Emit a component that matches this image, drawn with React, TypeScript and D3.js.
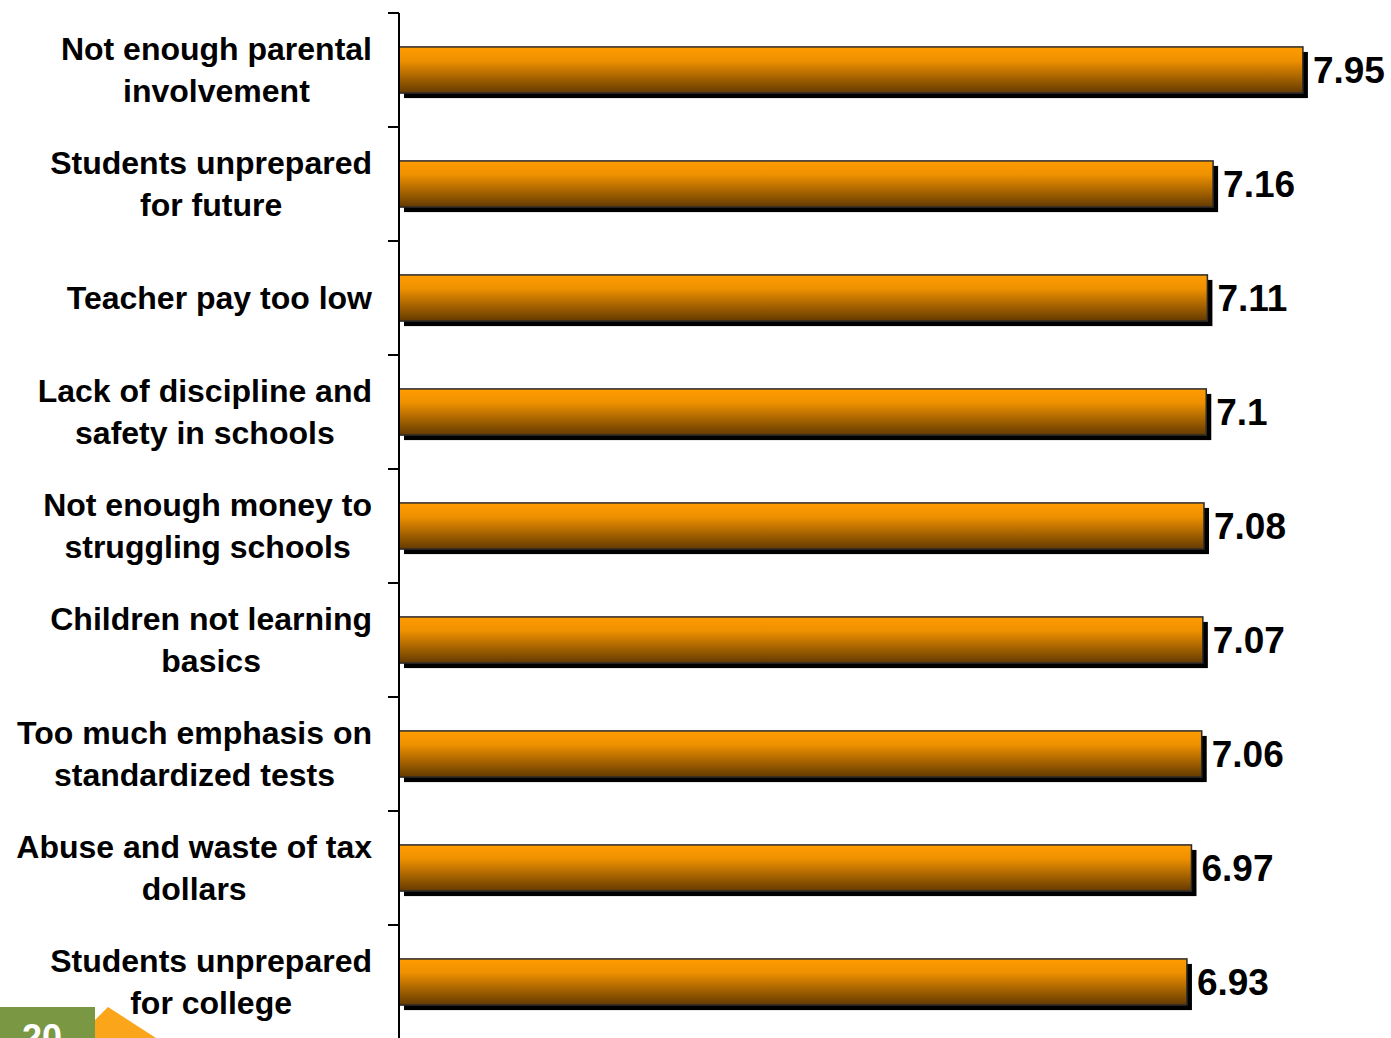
import React, { useEffect, useRef } from "react";
import * as d3 from "d3";

const categories: string[] = [
  "Not enough parental\ninvolvement",
  "Students unprepared\nfor future",
  "Teacher pay too low",
  "Lack of discipline and\nsafety in schools",
  "Not enough money to\nstruggling schools",
  "Children not learning\nbasics",
  "Too much emphasis on\nstandardized tests",
  "Abuse and waste of tax\ndollars",
  "Students unprepared\nfor college",
];
const values: number[] = [7.95, 7.16, 7.11, 7.1, 7.08, 7.07, 7.06, 6.97, 6.93];
const valueLabels: string[] = ["7.95", "7.16", "7.11", "7.1", "7.08", "7.07", "7.06", "6.97", "6.93"];
const slideNumber = "20";

const W = 1391;
const H = 1038;
const FONT = "'Liberation Sans', Arial, Helvetica, sans-serif";

export default function App() {
  const ref = useRef<SVGSVGElement | null>(null);

  useEffect(() => {
    const svg = d3.select(ref.current);
    svg.selectAll("*").remove();

    const x = d3.scaleLinear().domain([0, 8]).range([399, 399 + 8 * 113.7]);
    const y = d3.scaleBand<string>().domain(categories).range([13, 13 + 9 * 114]).padding(0);
    const barH = y.bandwidth() * 0.405;

    const defs = svg.append("defs");
    const grad = defs
      .append("linearGradient")
      .attr("id", "barGrad")
      .attr("x1", 0)
      .attr("y1", 0)
      .attr("x2", 0)
      .attr("y2", 1);
    grad.append("stop").attr("offset", "0%").attr("stop-color", "#FF9C00");
    grad.append("stop").attr("offset", "30%").attr("stop-color", "#EE9000");
    grad.append("stop").attr("offset", "100%").attr("stop-color", "#643A00");

    const g = svg.append("g");

    // shadows
    g.selectAll("rect.shadow")
      .data(categories)
      .join("rect")
      .attr("class", "shadow")
      .attr("x", x(0) + 5)
      .attr("y", (d) => (y(d) as number) + y.bandwidth() / 2 - barH / 2 + 5)
      .attr("width", (_d, i) => x(values[i]) - x(0))
      .attr("height", barH)
      .attr("fill", "#000");

    // bars
    g.selectAll("rect.bar")
      .data(categories)
      .join("rect")
      .attr("class", "bar")
      .attr("x", x(0))
      .attr("y", (d) => (y(d) as number) + y.bandwidth() / 2 - barH / 2)
      .attr("width", (_d, i) => x(values[i]) - x(0))
      .attr("height", barH)
      .attr("fill", "url(#barGrad)")
      .attr("stroke", "#2a2a2a")
      .attr("stroke-width", 1.5);

    // axis line
    g.append("line")
      .attr("x1", 399)
      .attr("x2", 399)
      .attr("y1", 13)
      .attr("y2", H)
      .attr("stroke", "#000")
      .attr("stroke-width", 2);

    // ticks at band boundaries
    const boundaries = categories
      .map((c) => y(c) as number)
      .concat([(y(categories[categories.length - 1]) as number) + y.step()]);
    g.selectAll("line.tick")
      .data(boundaries)
      .join("line")
      .attr("class", "tick")
      .attr("x1", 388)
      .attr("x2", 399)
      .attr("y1", (d) => d)
      .attr("y2", (d) => d)
      .attr("stroke", "#000")
      .attr("stroke-width", 2);

    // value labels
    g.selectAll("text.val")
      .data(categories)
      .join("text")
      .attr("class", "val")
      .attr("x", (_d, i) => x(values[i]) + 10)
      .attr("y", (d) => (y(d) as number) + y.bandwidth() / 2 + 13)
      .attr("font-family", FONT)
      .attr("font-weight", "bold")
      .attr("font-size", 37)
      .attr("fill", "#000")
      .text((_d, i) => valueLabels[i]);

    // category labels
    const rightEdge = 372;
    const lineGap = 42;
    categories.forEach((c) => {
      const lines = c.split("\n");
      const cy = (y(c) as number) + y.bandwidth() / 2;
      const tg = g.append("g");
      const texts = lines.map((ln, li) =>
        tg
          .append("text")
          .attr("font-family", FONT)
          .attr("font-weight", "bold")
          .attr("font-size", 32)
          .attr("fill", "#000")
          .attr("text-anchor", "middle")
          .attr("y", cy + (li - (lines.length - 1) / 2) * lineGap + 11)
          .text(ln)
      );
      let maxW = 0;
      texts.forEach((t) => {
        const node = t.node() as SVGTextElement;
        maxW = Math.max(maxW, node.getComputedTextLength());
      });
      texts.forEach((t) => t.attr("x", rightEdge - maxW / 2));
    });

    // bottom-left decoration
    svg
      .append("polygon")
      .attr("points", "95,1020 108,1007 156,1038 95,1038")
      .attr("fill", "#FBA51A");
    svg
      .append("rect")
      .attr("x", 0)
      .attr("y", 1007)
      .attr("width", 95)
      .attr("height", 31)
      .attr("fill", "#7A9744");
    svg
      .append("text")
      .attr("x", 22)
      .attr("y", 1050)
      .attr("font-family", FONT)
      .attr("font-weight", "bold")
      .attr("font-size", 36)
      .attr("fill", "#fff")
      .text(slideNumber);
  }, []);

  return (
    <svg
      ref={ref}
      width={W}
      height={H}
      style={{ position: "absolute", left: 0, top: 0, background: "#fff", display: "block" }}
    />
  );
}
